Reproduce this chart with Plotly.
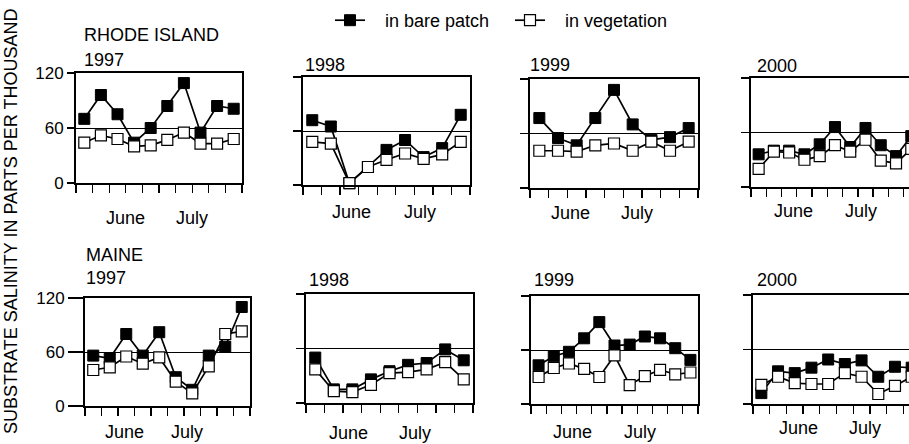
import numpy as np
import plotly.graph_objects as go

W, H = 909, 444

# ---------------- data (salinity, parts per thousand) ----------------
states = ["RHODE ISLAND", "MAINE"]
years = ["1997", "1998", "1999", "2000"]
months = ["June", "July"]
series_names = ["in bare patch", "in vegetation"]

ri_bare_1997 = [70, 96, 75, 44, 60, 84, 109, 55, 84, 81]
ri_veg_1997 = [44, 52, 48, 40, 41, 47, 55, 43, 43, 48]
ri_bare_1998 = [72, 65, 2, 20, 39, 50, 31, 41, 78]
ri_veg_1998 = [48, 46, 2, 20, 28, 35, 29, 34, 48]
ri_bare_1999 = [77, 55, 47, 77, 108, 70, 53, 56, 66]
ri_veg_1999 = [41, 41, 40, 47, 49, 41, 51, 41, 51]
ri_bare_2000 = [36, 40, 40, 36, 47, 66, 44, 65, 46, 34, 56]
ri_veg_2000 = [20, 39, 38, 30, 34, 46, 39, 52, 29, 26, 42]

me_bare_1997 = [56, 53, 80, 56, 82, 32, 18, 56, 66, 110]
me_veg_1997 = [40, 43, 55, 47, 54, 27, 14, 44, 80, 83]
me_bare_1998 = [50, 15, 15, 26, 35, 42, 44, 59, 47]
me_veg_1998 = [37, 13, 12, 20, 33, 34, 37, 45, 26]
me_bare_1999 = [43, 53, 58, 73, 91, 65, 66, 75, 73, 62, 49]
me_veg_1999 = [30, 40, 45, 39, 30, 54, 21, 31, 38, 33, 35]
me_bare_2000 = [12, 36, 34, 40, 49, 44, 48, 30, 41, 40]
me_veg_2000 = [21, 30, 23, 22, 22, 34, 30, 11, 20, 30]

# position of month labels along each panel's sampling axis (in sample intervals)
ri_month_pos = [[3.0, 7.0], [2.6, 6.3], [2.15, 5.75], [2.77, 7.2]]
me_month_pos = [[2.4, 6.2], [2.3, 5.9], [2.73, 7.2], [2.7, 6.7]]

y_ticks = [0, 60, 120]

bare_series = [[ri_bare_1997, ri_bare_1998, ri_bare_1999, ri_bare_2000],
               [me_bare_1997, me_bare_1998, me_bare_1999, me_bare_2000]]
veg_series = [[ri_veg_1997, ri_veg_1998, ri_veg_1999, ri_veg_2000],
              [me_veg_1997, me_veg_1998, me_veg_1999, me_veg_2000]]
month_pos = [ri_month_pos, me_month_pos]

# ---------------- layout geometry (pixels) ----------------
xdom_px = [[(76, 242), (303, 470), (530, 698), (751, 909)],
           [(85, 250), (306, 473), (531, 698), (753, 909)]]
ydom_px = [[(73, 183), (77, 185), (79, 188), (78, 187)],
           [(298, 406), (294, 403), (296, 404), (295, 404)]]
month_y_px = [[218, 212, 213, 211], [432, 433, 432, 428]]
year_px = [[(82, 60), (303, 65), (528, 65), (755, 66)],
           [(84, 278), (307, 280), (532, 280), (755, 280)]]
state_px = [(82, 35), (84, 255)]
# the last column is cut by the right edge of the figure
last_col_visible = [10.35, 9.34]
ylab_ticklen = [7, 15]

FONT = "Liberation Sans, Arial, Helvetica, sans-serif"
NB = "\u00a0\u00a0\u00a0"

fig = go.Figure()
layout = dict(
    width=W, height=H,
    margin=dict(l=0, r=0, t=0, b=0, autoexpand=False),
    paper_bgcolor="white", plot_bgcolor="white",
    font=dict(family=FONT, size=17, color="black"),
    showlegend=True,
    legend=dict(orientation="h", x=330 / W, y=1 - 2 / H, xanchor="left", yanchor="top",
                font=dict(size=18), bgcolor="rgba(0,0,0,0)", traceorder="normal",
                entrywidth=135, entrywidthmode="pixels"),
)
annotations = []

k = 0
for r in range(2):
    for c in range(4):
        k += 1
        xa = "x" if k == 1 else f"x{k}"
        ya = "y" if k == 1 else f"y{k}"
        bare = bare_series[r][c]
        veg = veg_series[r][c]
        n = len(bare)
        xs = np.arange(n) + 0.5
        last = (c == 3)
        clip = last
        fig.add_trace(go.Scatter(
            x=xs, y=bare, xaxis=xa, yaxis=ya, mode="lines+markers",
            name=NB + series_names[0], legendgroup="bare", showlegend=(k == 1),
            line=dict(color="black", width=1.7),
            marker=dict(symbol="square", size=11, color="black",
                        line=dict(color="black", width=1)),
            cliponaxis=clip, hoverinfo="skip"))
        fig.add_trace(go.Scatter(
            x=xs, y=veg, xaxis=xa, yaxis=ya, mode="lines+markers",
            name=NB + series_names[1], legendgroup="veg", showlegend=(k == 1),
            line=dict(color="black", width=1.7),
            marker=dict(symbol="square", size=11, color="white",
                        line=dict(color="black", width=1.2)),
            cliponaxis=clip, hoverinfo="skip"))

        x0, x1 = xdom_px[r][c]
        y0, y1 = ydom_px[r][c]
        xrange_end = last_col_visible[r] if last else n
        layout["xaxis" if k == 1 else f"xaxis{k}"] = dict(
            domain=[x0 / W, x1 / W], range=[0, xrange_end], anchor=ya,
            tickmode="array", tickvals=list(range(n + 1)), showticklabels=False,
            ticks="outside", ticklen=8, tickwidth=1.3, tickcolor="black",
            showline=True, linewidth=2, linecolor="black", mirror=True,
            showgrid=False, zeroline=False, fixedrange=True)
        layout["yaxis" if k == 1 else f"yaxis{k}"] = dict(
            domain=[1 - y1 / H, 1 - y0 / H], range=[0, 120], anchor=xa,
            tickmode="array", tickvals=y_ticks, showticklabels=(c == 0),
            ticks="outside", ticklen=(ylab_ticklen[r] if c == 0 else 8),
            tickwidth=1.3, tickcolor="black",
            tickfont=dict(size=17),
            showline=True, linewidth=2, linecolor="black", mirror=(not last),
            showgrid=True, gridcolor="black", gridwidth=1, zeroline=False,
            fixedrange=True)

        for m, pos in zip(months, month_pos[r][c]):
            annotations.append(dict(
                text=m, x=pos, xref=xa, y=1 - month_y_px[r][c] / H, yref="paper",
                xanchor="center", yanchor="middle", showarrow=False,
                font=dict(size=18)))
        yx, yy = year_px[r][c]
        annotations.append(dict(
            text=years[c], x=yx / W, y=1 - yy / H, xref="paper", yref="paper",
            xanchor="left", yanchor="middle", showarrow=False, font=dict(size=18)))

for r in range(2):
    sx, sy = state_px[r]
    annotations.append(dict(
        text=states[r], x=sx / W, y=1 - sy / H, xref="paper", yref="paper",
        xanchor="left", yanchor="middle", showarrow=False, font=dict(size=18)))

annotations.append(dict(
    text="SUBSTRATE SALINITY IN PARTS PER THOUSAND", x=11 / W, y=0.5,
    xref="paper", yref="paper", xanchor="center", yanchor="middle",
    textangle=-90, showarrow=False, font=dict(size=18)))

layout["annotations"] = annotations
fig.update_layout(**layout)
fig.write_html("out.html",
               config={"displayModeBar": False, "staticPlot": True},
               post_script="document.body.style.margin='0px';document.body.style.overflow='hidden';")
